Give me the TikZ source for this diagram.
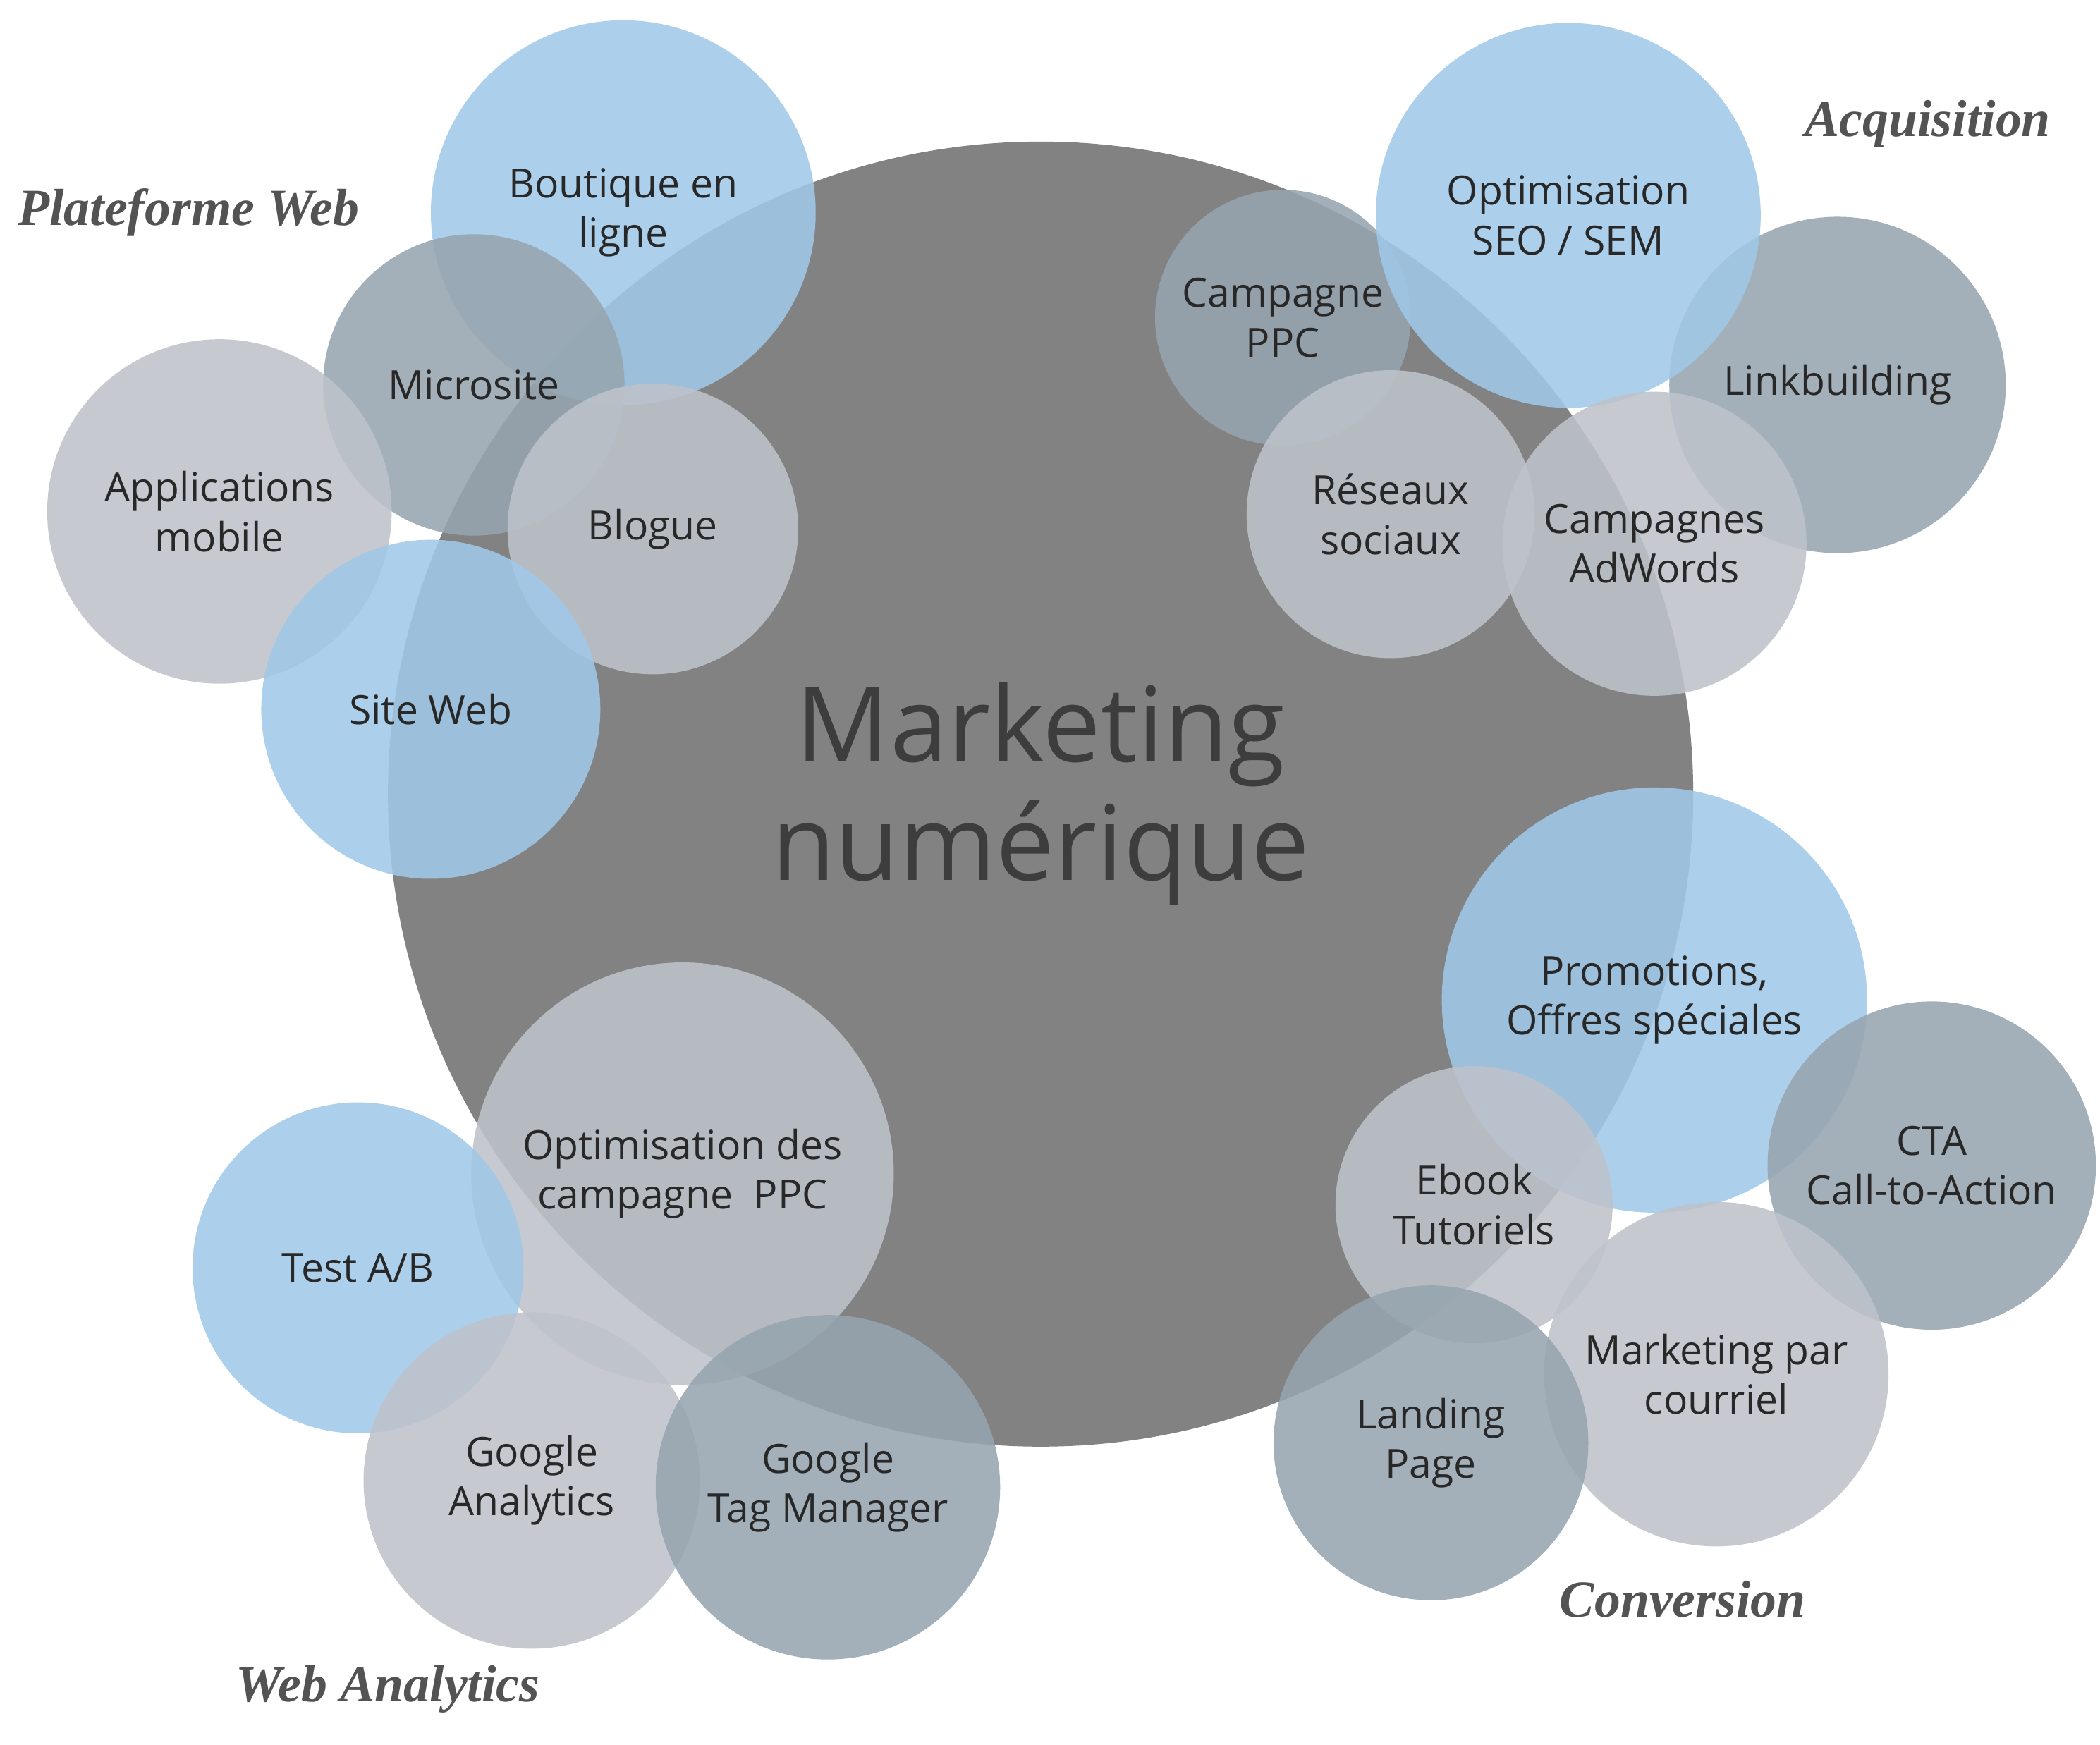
\documentclass[tikz,border=0pt]{standalone}
\usepackage{fontspec}
\setmainfont{Open Sans}
\newfontfamily\titlefont{Liberation Serif}
\begin{document}
\begin{tikzpicture}[x=0.02cm,y=-0.02cm]
\definecolor{cblue}{RGB}{160,200,232}
\definecolor{cslate}{RGB}{150,165,175}
\definecolor{clight}{RGB}{190,195,202}
\definecolor{cmain}{RGB}{130,130,130}
\definecolor{ctext}{RGB}{40,40,40}
\tikzset{
 bub/.style={circle,minimum size=#1*0.04cm,inner sep=0pt,align=center,font=\fontsize{17}{21}\selectfont,text=ctext,fill opacity=0.88,text opacity=1},
 bblue/.style={bub=#1,fill=cblue},
 bslate/.style={bub=#1,fill=cslate},
 blight/.style={bub=#1,fill=clight},
 grp/.style={font=\titlefont\bfseries\itshape\fontsize{22}{26}\selectfont,text=ctext!80}
}
\useasboundingbox (0,0) rectangle (1560,1296);
\node[circle,fill=cmain,minimum size=485*0.04cm,inner sep=0pt,align=center,text=ctext!90,font=\fontsize{44}{50}\selectfont] (main) at (773,590) {Marketing\\numérique};
\node[bblue=143] (bout) at (463,158) {Boutique en\\ligne};
\node[bslate=112] (micro) at (352,286) {Microsite};
\node[blight=128] (app) at (163,380) {Applications\\mobile};
\node[blight=108] (blog) at (485,393) {Blogue};
\node[bblue=126] (site) at (320,527) {Site Web};
\node[bslate=95] (ppc) at (953,236) {Campagne\\PPC};
\node[bslate=125] (link) at (1365,286) {Linkbuilding};
\node[bblue=143] (seo) at (1165,160) {Optimisation\\SEO / SEM};
\node[blight=107] (res) at (1033,382) {Réseaux\\sociaux};
\node[blight=113] (adw) at (1229,404) {Campagnes\\AdWords};
\node[bblue=158] (promo) at (1229,743) {Promotions,\\Offres spéciales};
\node[bslate=122] (cta) at (1435,866) {CTA\\Call-to-Action};
\node[blight=103] (ebook) at (1095,895) {Ebook\\Tutoriels};
\node[blight=128] (mail) at (1275,1021) {Marketing par\\courriel};
\node[bslate=117] (land) at (1063,1072) {Landing\\Page};
\node[blight=157] (optppc) at (507,872) {Optimisation des\\campagne\ \ PPC};
\node[bblue=123] (ab) at (266,942) {Test A/B};
\node[blight=125] (ga) at (395,1100) {Google\\Analytics};
\node[bslate=128] (gtm) at (615,1105) {Google\\Tag Manager};
\node[grp] (t1) at (140,158) {Plateforme Web};
\node[grp] (t2) at (1432,92) {Acquisition};
\node[grp] (t3) at (1250,1188) {Conversion};
\node[grp] (t4) at (288,1255) {Web Analytics};
\end{tikzpicture}
\end{document}
